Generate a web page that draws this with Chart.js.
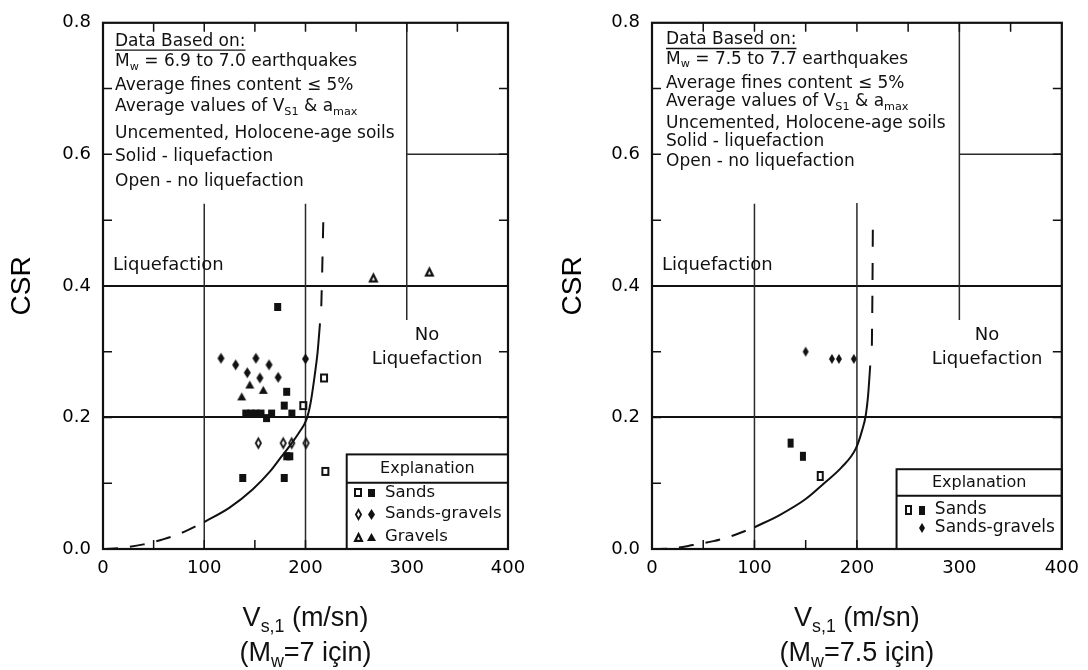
<!DOCTYPE html>
<html><head><meta charset="utf-8">
<script src="https://cdn.jsdelivr.net/npm/chart.js@4.4.1/dist/chart.umd.min.js"></script>
<style>
html,body{margin:0;padding:0;background:#fff;}
#wrap{position:relative;width:1088px;height:670px;overflow:hidden;background:#fff;}
.c{position:absolute;top:0;width:544px;height:670px;}
</style></head><body>
<div id="wrap">
<div class="c" style="left:0"><canvas id="cL" width="544" height="670"></canvas></div>
<div class="c" style="left:544px"><canvas id="cR" width="544" height="670"></canvas></div>
</div>
<script>
// ---------- DATA ----------
const xTickValues = [0, 100, 200, 300, 400];
const yTickValues = [0, 0.2, 0.4, 0.6, 0.8];
const yTickLabels = ['0.0', '0.2', '0.4', '0.6', '0.8'];

// Left chart: Mw = 6.9 to 7.0  [Vs1, CSR]
const m7SandsLiq = [[172.5,0.368],[181.4,0.239],[179,0.218],[141,0.206],[146,0.206],[151,0.206],[156,0.206],[166.5,0.206],[186.5,0.206],[161.5,0.199],[181.5,0.141],[184.5,0.141],[138,0.108],[179,0.108]];
const m7SandsNoLiq = [[218.3,0.26],[197.8,0.218],[219.6,0.118]];
const m7SandGravelLiq = [[116.5,0.29],[131,0.28],[151,0.29],[164,0.28],[200,0.289],[155,0.26],[142.5,0.268],[173,0.261]];
const m7SandGravelNoLiq = [[153.4,0.161],[178,0.161],[186.4,0.161],[200.5,0.161]];
const m7GravelLiq = [[137,0.232],[158.3,0.242],[145,0.25]];
const m7GravelNoLiq = [[267,0.412],[322.3,0.421]];
const m7CurveLow = [[0,0],[20,0.002],[40,0.007],[60,0.015],[80,0.026],[100,0.041]];
const m7CurveMid = [[100,0.041],[125,0.063],[148,0.091],[165,0.118],[176,0.14],[185,0.158],[194,0.178],[201,0.197],[205,0.222],[209,0.263],[212,0.3],[214.3,0.343]];
const m7CurveHigh = [[215.6,0.369],[216.6,0.43],[217.6,0.5]];

// Right chart: Mw = 7.5 to 7.7
const m75SandsLiq = [[135.3,0.161],[147.3,0.141]];
const m75SandsNoLiq = [[164.2,0.111]];
const m75SandGravelLiq = [[150,0.3],[175.6,0.289],[182.4,0.289],[197,0.289]];
const m75CurveLow = [[0,0],[20,0.001],[40,0.006],[60,0.012],[80,0.021],[100,0.033]];
const m75CurveMid = [[100,0.033],[125,0.052],[150,0.076],[168,0.1],[185,0.124],[199,0.153],[205,0.18],[208.6,0.203],[211,0.235],[213,0.279]];
const m75CurveHigh = [[214.6,0.309],[215.2,0.4],[215.6,0.5]];

// Texts
const notesM7 = [
  [{t:'Data Based on:'}],
  [{t:'M'},{t:'w',sub:true},{t:' = 6.9 to 7.0 earthquakes'}],
  [{t:'Average fines content ≤ 5%'}],
  [{t:'Average values of V'},{t:'S1',sub:true},{t:' & a'},{t:'max',sub:true}],
  [{t:'Uncemented, Holocene-age soils'}],
  [{t:'Solid - liquefaction'}],
  [{t:'Open - no liquefaction'}]
];
const notesM75 = [
  [{t:'Data Based on:'}],
  [{t:'M'},{t:'w',sub:true},{t:' = 7.5 to 7.7 earthquakes'}],
  [{t:'Average fines content ≤ 5%'}],
  [{t:'Average values of V'},{t:'S1',sub:true},{t:' & a'},{t:'max',sub:true}],
  [{t:'Uncemented, Holocene-age soils'}],
  [{t:'Solid - liquefaction'}],
  [{t:'Open - no liquefaction'}]
];
const xTitleLine1 = [{t:'V'},{t:'s,1',sub:true},{t:' (m/sn)'}];
const xTitleM7 = [{t:'(M'},{t:'w',sub:true},{t:'=7 için)'}];
const xTitleM75 = [{t:'(M'},{t:'w',sub:true},{t:'=7.5 için)'}];
const legendM7 = ['Sands', 'Sands-gravels', 'Gravels'];
const legendM75 = ['Sands', 'Sands-gravels'];

// ---------- STYLE HELPERS ----------
const INK = '#111';
const SCAN = '"DejaVu Sans", sans-serif';
const TITLE = '"Liberation Sans", Arial, sans-serif';

function marker(kind, w, h, filled, lw) {
  lw = lw || 1.8;
  const pad = 2;
  const c = document.createElement('canvas');
  c.width = Math.ceil(w + pad * 2); c.height = Math.ceil(h + pad * 2);
  const g = c.getContext('2d');
  g.fillStyle = INK; g.strokeStyle = INK; g.lineWidth = lw; g.lineJoin = 'miter';
  const x0 = pad, y0 = pad, cx = pad + w / 2, cy = pad + h / 2;
  const i = filled ? 0 : lw / 2;
  g.beginPath();
  if (kind === 'square') g.rect(x0 + i, y0 + i, w - 2 * i, h - 2 * i);
  else if (kind === 'diamond') { g.moveTo(cx, y0 + i); g.lineTo(x0 + w - i, cy); g.lineTo(cx, y0 + h - i); g.lineTo(x0 + i, cy); g.closePath(); }
  else { g.moveTo(cx, y0 + i); g.lineTo(x0 + w - i, y0 + h - i); g.lineTo(x0 + i, y0 + h - i); g.closePath(); }
  if (filled) g.fill(); else g.stroke();
  return c;
}
const MK = {
  sqF: marker('square', 7, 8, true), sqO: marker('square', 8, 9, false, 2),
  diF: marker('diamond', 7, 11, true), diO: marker('diamond', 7, 11, false, 1.8),
  trF: marker('triangle', 9, 8, true), trO: marker('triangle', 9, 9, false, 2.2),
  sqF2: marker('square', 6, 9, true), sqO2: marker('square', 7, 10, false, 2),
  diF2: marker('diamond', 6, 10, true)
};

function pts(arr) { return arr.map(p => ({x: p[0], y: p[1]})); }
function scatterSet(arr, img) {
  return {type: 'scatter', data: pts(arr), pointStyle: img, pointRadius: 4, pointHoverRadius: 4, showLine: false, clip: false};
}
function lineSet(arr, dash) {
  return {type: 'scatter', data: pts(arr), showLine: true, pointRadius: 0, borderColor: INK, borderWidth: 2,
    borderDash: dash || [], cubicInterpolationMode: 'monotone', fill: false};
}

function richWidth(ctx, parts, size, fam) {
  let w = 0;
  for (const p of parts) { ctx.font = (p.sub ? size * 0.66 : size) + 'px ' + fam; w += ctx.measureText(p.t).width; }
  return w;
}
function drawRich(ctx, parts, x, y, size, fam, align) {
  const w = richWidth(ctx, parts, size, fam);
  let cx = align === 'center' ? x - w / 2 : x;
  ctx.textBaseline = 'middle'; ctx.textAlign = 'left'; ctx.fillStyle = INK;
  for (const p of parts) {
    const s = p.sub ? size * 0.66 : size;
    ctx.font = s + 'px ' + fam;
    ctx.fillText(p.t, cx, y + (p.sub ? size * 0.3 : 0));
    cx += ctx.measureText(p.t).width;
  }
  return w;
}

// ---------- DECOR PLUGIN ----------
const decor = {
  id: 'decor',
  beforeDatasetsDraw(chart, args, o) {
    const {ctx, chartArea: a, scales: {x, y}} = chart;
    ctx.save();
    ctx.strokeStyle = INK; ctx.lineCap = 'butt';
    ctx.lineWidth = 2;
    for (const v of [0.2, 0.4]) {
      const py = Math.round(y.getPixelForValue(v));
      ctx.beginPath(); ctx.moveTo(a.left, py); ctx.lineTo(a.right, py); ctx.stroke();
    }
    ctx.lineWidth = 1.5; ctx.strokeStyle = '#2a2a2a';
    let py6 = y.getPixelForValue(0.6);
    ctx.beginPath(); ctx.moveTo(x.getPixelForValue(300), py6); ctx.lineTo(a.right, py6); ctx.stroke();
    for (const seg of o.vlines) {
      const px = x.getPixelForValue(seg[0]);
      ctx.beginPath(); ctx.moveTo(px, y.getPixelForValue(seg[1])); ctx.lineTo(px, y.getPixelForValue(seg[2])); ctx.stroke();
    }
    ctx.strokeStyle = INK; ctx.lineWidth = 1.5;
    const tl = 9;
    for (let v = 0.1; v < 0.79; v += 0.1) {
      const py = y.getPixelForValue(v);
      ctx.beginPath(); ctx.moveTo(a.left, py); ctx.lineTo(a.left + tl, py);
      ctx.moveTo(a.right, py); ctx.lineTo(a.right - tl, py); ctx.stroke();
    }
    for (let v = 50; v < 400; v += 50) {
      const px = x.getPixelForValue(v);
      ctx.beginPath(); ctx.moveTo(px, a.top); ctx.lineTo(px, a.top + tl);
      ctx.moveTo(px, a.bottom); ctx.lineTo(px, a.bottom - tl); ctx.stroke();
    }
    ctx.restore();
  },
  afterDraw(chart, args, o) {
    const {ctx, chartArea: a, scales: {x, y}} = chart;
    ctx.save();
    o.notes.forEach((line, i) => {
      const w = drawRich(ctx, line, a.left + o.noteX, o.noteY[i], 17, SCAN, 'left');
      if (i === 0) {
        ctx.strokeStyle = INK; ctx.lineWidth = 1.3;
        ctx.beginPath(); ctx.moveTo(a.left + o.noteX, o.noteY[i] + 8.5); ctx.lineTo(a.left + o.noteX + w, o.noteY[i] + 8.5); ctx.stroke();
      }
    });
    ctx.font = '18px ' + SCAN; ctx.fillStyle = INK; ctx.textBaseline = 'middle';
    ctx.textAlign = 'left';
    ctx.fillText('Liquefaction', a.left + 10, y.getPixelForValue(0.432));
    ctx.textAlign = 'center';
    ctx.fillText('No', x.getPixelForValue(o.noX), y.getPixelForValue(0.3255));
    ctx.fillText('Liquefaction', x.getPixelForValue(o.noX), y.getPixelForValue(0.288));
    const L = x.getPixelForValue(o.lgX), T = y.getPixelForValue(o.lgTop), S = y.getPixelForValue(o.lgSep);
    ctx.fillStyle = '#fff'; ctx.fillRect(L, T, a.right - L, a.bottom - T);
    ctx.strokeStyle = INK; ctx.lineWidth = 2;
    ctx.strokeRect(L, T, a.right - L, a.bottom - T);
    ctx.beginPath(); ctx.moveTo(L, S); ctx.lineTo(a.right, S); ctx.stroke();
    ctx.fillStyle = INK; ctx.textAlign = 'center'; ctx.font = '16px ' + SCAN;
    ctx.fillText('Explanation', (L + a.right) / 2, (T + S) / 2);
    ctx.textAlign = 'left'; ctx.font = o.lgFont + 'px ' + SCAN;
    o.lgItems.forEach((it, i) => {
      const cy = a.bottom + o.lgRows[i];
      ctx.fillText(it.label, L + o.lgText, cy);
      if (it.open) ctx.drawImage(it.open, Math.round(L + o.lgOpen - it.open.width / 2), Math.round(cy - it.open.height / 2));
      if (it.solid) ctx.drawImage(it.solid, Math.round(L + o.lgSolid - it.solid.width / 2), Math.round(cy - it.solid.height / 2));
    });
    ctx.strokeStyle = INK; ctx.lineWidth = 2.2;
    ctx.strokeRect(a.left, a.top, a.right - a.left, a.bottom - a.top);
    const cx = (a.left + a.right) / 2;
    drawRich(ctx, xTitleLine1, cx, 619, 27, TITLE, 'center');
    drawRich(ctx, o.xTitle2, cx, 654, 27, TITLE, 'center');
    ctx.restore();
  }
};

function makeChart(id, datasets, rightPad, yWidth, titlePad, decorOpts) {
  return new Chart(document.getElementById(id), {
    data: {datasets},
    options: {
      responsive: false, animation: false, devicePixelRatio: 1,
      layout: {padding: {top: 15, right: rightPad, left: 0, bottom: 0}},
      plugins: {legend: {display: false}, tooltip: {enabled: false}, decor: decorOpts},
      events: [],
      scales: {
        x: {type: 'linear', min: 0, max: 400,
          afterBuildTicks: s => { s.ticks = xTickValues.map(v => ({value: v})); },
          ticks: {font: {family: SCAN, size: 18}, color: '#000', padding: 9, maxRotation: 0, autoSkip: false},
          grid: {display: false, drawTicks: false}, border: {display: false},
          afterFit: s => { s.height = 121; }},
        y: {type: 'linear', min: 0, max: 0.8,
          afterBuildTicks: s => { s.ticks = yTickValues.map(v => ({value: v})); },
          ticks: {font: {family: SCAN, size: 18}, color: '#000', padding: 12, autoSkip: false,
            callback: v => yTickLabels[yTickValues.findIndex(t => Math.abs(t - v) < 1e-9)]},
          grid: {display: false, drawTicks: false}, border: {display: false},
          title: {display: true, text: 'CSR', color: '#000', font: {family: TITLE, size: 28}, padding: {top: titlePad, bottom: 0}},
          afterFit: s => { s.width = yWidth; }}
      }
    },
    plugins: [decor]
  });
}

makeChart('cL', [
  lineSet(m7CurveLow, [15, 12]), lineSet(m7CurveMid), lineSet(m7CurveHigh, [16, 18]),
  scatterSet(m7SandsLiq, MK.sqF), scatterSet(m7SandsNoLiq, MK.sqO),
  scatterSet(m7SandGravelLiq, MK.diF), scatterSet(m7SandGravelNoLiq, MK.diO),
  scatterSet(m7GravelLiq, MK.trF), scatterSet(m7GravelNoLiq, MK.trO)
], 36, 103, 5, {
  vlines: [[100, 0, 0.525], [200, 0, 0.525], [300, 0.348, 0.8]],
  notes: notesM7, noteX: 12, noteY: [41.7, 61.7, 86, 106.7, 133.3, 156.7, 181.7],
  noX: 320, lgX: 240.7, lgTop: 0.1438, lgSep: 0.1008, lgFont: 16.5,
  lgRows: [-56.3, -35, -12], lgOpen: 11.3, lgSolid: 25, lgText: 38.3,
  lgItems: [{label: legendM7[0], open: MK.sqO, solid: MK.sqF}, {label: legendM7[1], open: MK.diO, solid: MK.diF}, {label: legendM7[2], open: MK.trO, solid: MK.trF}],
  xTitle2: xTitleM7
});

makeChart('cR', [
  lineSet(m75CurveLow, [15, 12]), lineSet(m75CurveMid), lineSet(m75CurveHigh, [17, 16]),
  scatterSet(m75SandsLiq, MK.sqF2), scatterSet(m75SandsNoLiq, MK.sqO2),
  scatterSet(m75SandGravelLiq, MK.diF2)
], 26, 108, 12, {
  vlines: [[100, 0, 0.525], [200, 0, 0.526], [300, 0.348, 0.8]],
  notes: notesM75, noteX: 14, noteY: [40, 59.3, 83.3, 101.7, 123.3, 141.7, 161.7],
  noX: 327, lgX: 238.7, lgTop: 0.1213, lgSep: 0.081, lgFont: 17,
  lgRows: [-39, -21], lgOpen: 12.3, lgSolid: 25, lgText: 38.3,
  lgItems: [{label: legendM75[0], open: MK.sqO2, solid: MK.sqF2}, {label: legendM75[1], open: null, solid: MK.diF2}],
  xTitle2: xTitleM75
});
</script>
</body></html>
